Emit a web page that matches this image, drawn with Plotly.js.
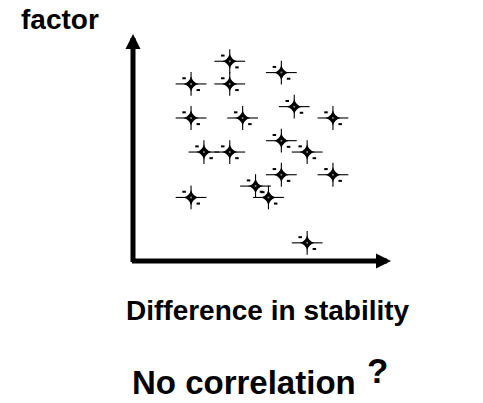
<!DOCTYPE html>
<html>
<head>
<meta charset="utf-8">
<script src="https://cdn.plot.ly/plotly-3.0.1.min.js"></script>
<style>
  html, body { margin: 0; padding: 0; background: #ffffff; }
  #chart { width: 483px; height: 403px; }
</style>
</head>
<body>
<div id="chart"></div>
<script>
// Data (arbitrary units, axis 0..10)
var stabilityDiff = [3.75, 5.75, 2.25, 3.75, 6.25, 2.25, 4.25, 7.75, 5.75, 2.75, 3.75, 6.75, 5.75, 7.75, 4.75, 5.25, 2.25, 6.75];
var factorValue   = [8.8, 8.3, 7.8, 7.8, 6.8, 6.3, 6.3, 6.3, 5.3, 4.8, 4.8, 4.8, 3.8, 3.8, 3.3, 2.8, 2.8, 0.8];
var xLabel = "Difference in stability";
var yLabel = "factor";
var caption = "No correlation";
var captionMark = "?";

var FONT = '"Liberation Sans", Arial, Helvetica, sans-serif';

function pts(extra) {
  var t = {
    x: stabilityDiff, y: factorValue, type: 'scatter', mode: 'markers',
    hoverinfo: 'skip', showlegend: false, cliponaxis: false
  };
  for (var k in extra) t[k] = extra[k];
  return t;
}

var traces = [
  pts({ marker: { symbol: 'star-diamond', size: 11, color: '#000', line: { width: 0 } } }),
  pts({ marker: { symbol: 'line-ew', size: 22, line: { width: 1.1, color: '#000' } } }),
  pts({ marker: { symbol: 'line-ns', size: 17, line: { width: 1.1, color: '#000' } } }),
  pts({ marker: { symbol: 'circle', size: 2, color: '#8a8a8a', line: { width: 0 } } }),
  // small dashes: upper-left and lower-right of each star
  pts({ xaxis: 'x2', yaxis: 'y2', marker: { symbol: 'line-ew', size: 2.5, line: { width: 2, color: '#000' } } }),
  pts({ xaxis: 'x3', yaxis: 'y3', marker: { symbol: 'line-ew', size: 2.5, line: { width: 2, color: '#000' } } })
];

var hidden = { showgrid: false, zeroline: false, showline: false, showticklabels: false, ticks: '', fixedrange: true };
function ax(range, extra) {
  var a = { range: range };
  for (var k in hidden) a[k] = hidden[k];
  for (var k2 in extra) a[k2] = extra[k2];
  return a;
}

var layout = {
  width: 483, height: 403,
  margin: { l: 133, r: 92, t: 34, b: 142, pad: 0 },
  paper_bgcolor: '#ffffff', plot_bgcolor: '#ffffff',
  font: { family: FONT, color: '#000' },
  xaxis: ax([0, 10]),
  yaxis: ax([0, 10]),
  xaxis2: ax([0.27, 10.27], { overlaying: 'x' }),
  yaxis2: ax([-0.25, 9.75], { overlaying: 'y' }),
  xaxis3: ax([-0.28, 9.72], { overlaying: 'x' }),
  yaxis3: ax([0.27, 10.27], { overlaying: 'y' }),
  annotations: [
    // axis arrows
    { x: 10, y: 0, ax: -0.1, ay: 0, xref: 'x', yref: 'y', axref: 'x', ayref: 'y',
      text: '', showarrow: true, arrowhead: 2, arrowsize: 0.6, arrowwidth: 5, arrowcolor: '#000',
      standoff: 0, startstandoff: 0 },
    { x: 0, y: 10, ax: 0, ay: -0.11, xref: 'x', yref: 'y', axref: 'x', ayref: 'y',
      text: '', showarrow: true, arrowhead: 2, arrowsize: 0.6, arrowwidth: 5, arrowcolor: '#000',
      standoff: 0, startstandoff: 0 },
    // texts
    { text: '<b>' + yLabel + '</b>', xref: 'paper', yref: 'paper', x: -0.442, y: 1.066,
      xanchor: 'left', yanchor: 'middle', showarrow: false, font: { size: 28, family: FONT } },
    { text: '<b>' + xLabel + '</b>', xref: 'paper', yref: 'paper', x: 0.525, y: -0.22,
      xanchor: 'center', yanchor: 'middle', showarrow: false, font: { size: 28, family: FONT } },
    { text: '<b>' + caption + '</b>', xref: 'paper', yref: 'paper', x: -0.012, y: -0.535,
      xanchor: 'left', yanchor: 'middle', showarrow: false, font: { size: 33, family: FONT } },
    { text: '<b>' + captionMark + '</b>', xref: 'paper', yref: 'paper', x: 0.9, y: -0.482,
      xanchor: 'left', yanchor: 'middle', showarrow: false, font: { size: 35, family: FONT } }
  ]
};

Plotly.newPlot('chart', traces, layout, { staticPlot: true, displayModeBar: false });
</script>
</body>
</html>
